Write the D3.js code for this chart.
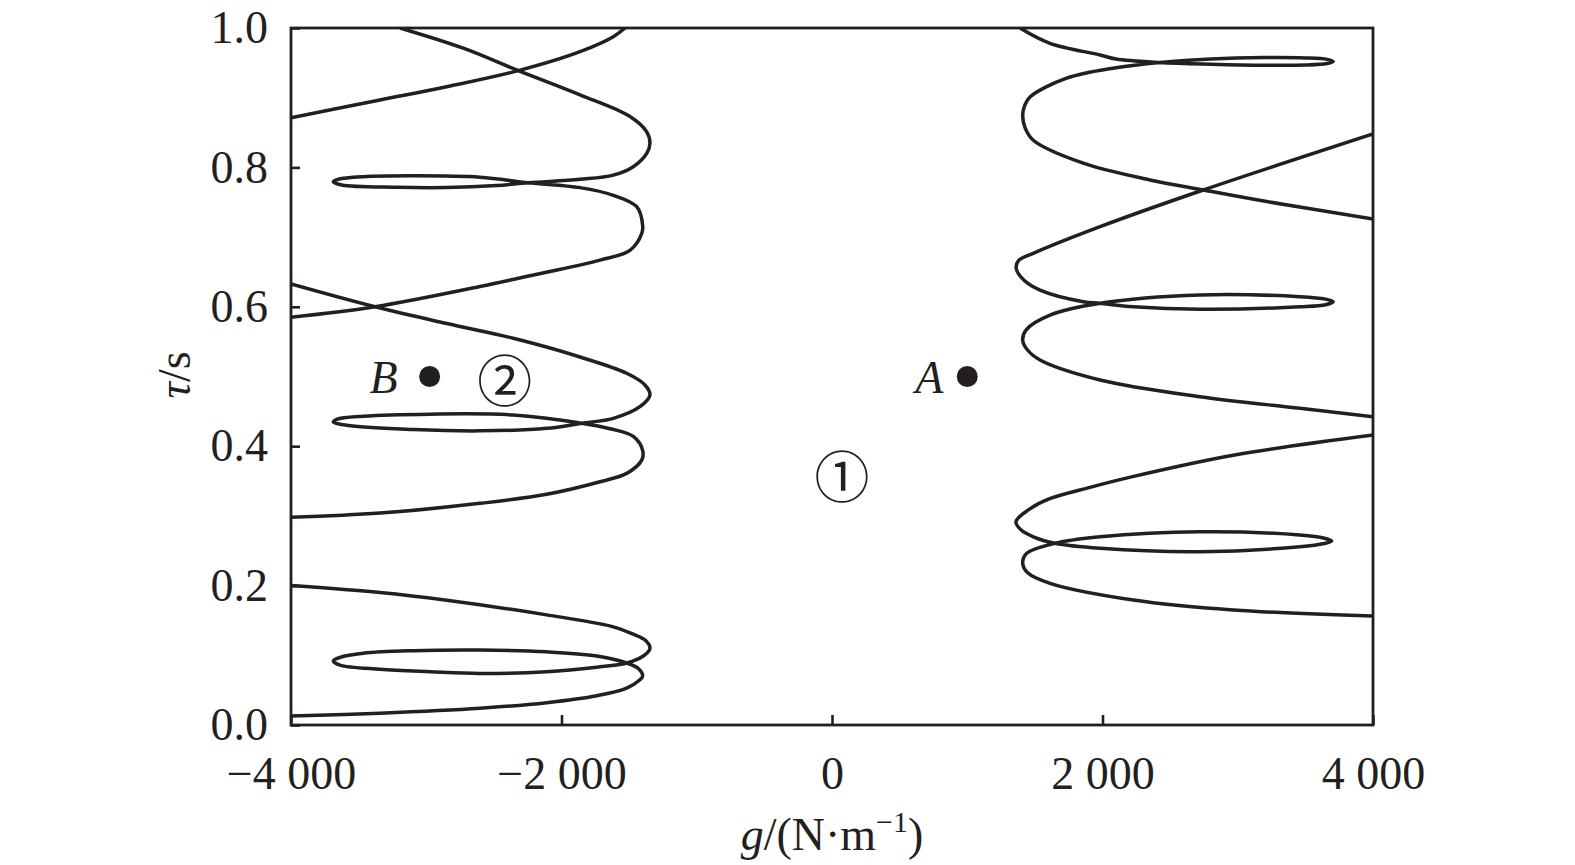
<!DOCTYPE html>
<html><head><meta charset="utf-8">
<script src="https://cdn.jsdelivr.net/npm/d3@7"></script>
<style>
html,body{margin:0;padding:0;background:#fff;}
svg{display:block;}
</style></head><body>
<svg id="chart" width="1575" height="865"></svg>
<script>
// ---- axis ticks ----
const xTicks = [-4000, -2000, 0, 2000, 4000];
const xTickLabels = ["−4 000", "−2 000", "0", "2 000", "4 000"];
const yTicks = [0, 0.2, 0.4, 0.6, 0.8, 1.0];
const yTickLabels = ["0.0", "0.2", "0.4", "0.6", "0.8", "1.0"];

// ---- boundary curves [g (N/m), tau (s)] ----
const curveLeft1 = [
  [-4000,0.013],[-3342,0.017],[-2603,0.024],[-2110,0.032],[-1740,0.042],[-1518,0.053],
  [-1420,0.065],[-1400,0.070],[-1432,0.081],[-1518,0.089],[-1740,0.099],[-2110,0.105],
  [-2603,0.1075],[-3096,0.1066],[-3466,0.103],[-3638,0.097],[-3687,0.092],[-3638,0.086],
  [-3342,0.080],[-2972,0.0765],[-2603,0.074],[-2110,0.0765],[-1740,0.083],[-1518,0.089],
  [-1395,0.099],[-1346,0.110],[-1380,0.1215],[-1480,0.131],[-1630,0.1415],[-2110,0.158],
  [-2849,0.179],[-3342,0.190],[-4000,0.200]
];
const curveLeft2 = [
  [-4000,0.298],[-3342,0.304],[-2603,0.318],[-2110,0.331],[-1715,0.349],[-1518,0.361],
  [-1407,0.380],[-1400,0.394],[-1469,0.414],[-1640,0.425],[-1851,0.433],[-2356,0.4448],
  [-2972,0.446],[-3466,0.443],[-3662,0.4386],[-3687,0.435],[-3588,0.430],[-3096,0.424],
  [-2603,0.422],[-2110,0.4256],[-1851,0.433],[-1617,0.440],[-1420,0.4567],[-1346,0.4735],
  [-1383,0.4878],[-1518,0.5046],[-1863,0.528],[-2356,0.5548],[-2849,0.576],[-3379,0.600],
  [-4000,0.6327]
];
const curveLeft3 = [
  [-4000,0.585],[-3379,0.600],[-2603,0.629],[-2270,0.643],[-1715,0.667],[-1494,0.681],
  [-1407,0.705],[-1400,0.717],[-1444,0.7436],[-1617,0.760],[-1863,0.771],[-2245,0.778],
  [-2603,0.786],[-3096,0.788],[-3466,0.7867],[-3650,0.783],[-3687,0.7795],[-3625,0.7747],
  [-3219,0.7714],[-2849,0.771],[-2479,0.774],[-2245,0.778],[-1863,0.783],[-1617,0.789],
  [-1469,0.801],[-1370,0.820],[-1346,0.8346],[-1370,0.851],[-1494,0.873],[-1863,0.904],
  [-2319,0.9388],[-2726,0.971],[-3194,1.0]
];
const curveLeft4 = [
  [-4000,0.8713],[-3342,0.8967],[-2849,0.9158],[-2319,0.9388],[-1863,0.966],[-1617,0.9875],
  [-1531,1.0]
];
const curveRight1 = [
  [4000,0.416],[2967,0.387],[2215,0.356],[1908,0.341],[1600,0.324],[1455,0.309],
  [1360,0.2917],[1397,0.280],[1488,0.270],[1649,0.2607],[1982,0.2535],[2721,0.2486],
  [3460,0.2558],[3640,0.2605],[3695,0.264],[3640,0.268],[3460,0.2726],[2721,0.2773],
  [1982,0.270],[1649,0.2607],[1440,0.2463],[1410,0.232],[1449,0.218],[1612,0.2033],
  [2228,0.1793],[2967,0.165],[4000,0.1564]
];
const curveRight2 = [
  [4000,0.4423],[3460,0.4544],[2721,0.471],[1982,0.495],[1538,0.5237],[1446,0.538],
  [1410,0.552],[1436,0.567],[1612,0.588],[1982,0.605],[2721,0.617],[3460,0.6145],
  [3650,0.611],[3706,0.6073],[3650,0.603],[3460,0.600],[2721,0.5964],[2228,0.600],
  [1982,0.605],[1858,0.6073],[1538,0.624],[1420,0.638],[1362,0.655],[1378,0.666],
  [1488,0.6767],[1982,0.715],[2745,0.7676],[4000,0.848]
];
const curveRight3 = [
  [4000,0.726],[3214,0.751],[2745,0.7676],[2351,0.782],[1858,0.806],[1488,0.839],
  [1427,0.857],[1410,0.875],[1425,0.889],[1464,0.901],[1735,0.928],[2100,0.943],
  [2425,0.9505],[2800,0.9555],[3200,0.9575],[3500,0.957],[3660,0.955],[3706,0.952],
  [3660,0.949],[3500,0.9468],[3200,0.9465],[2800,0.948],[2425,0.9505],[2100,0.9555],
  [1982,0.9613],[1612,0.978],[1390,1.0]
];
const curves = [curveLeft1, curveLeft2, curveLeft3, curveLeft4, curveRight1, curveRight2, curveRight3];

// ---- marked points and region labels ----
const pointNames = ["A", "B"];
const pointG = [1000, -2975];
const pointTau = [0.5, 0.5];
const regionLabels = ["①", "②"];
const regionG = [74, -2420];
const regionTau = [0.362, 0.5];

// ---- drawing ----
const W = 1575, H = 865;
const plot = {left: 291, right: 1373, top: 28, bottom: 725};
const ink = "#231f20";
const serif = '"Liberation Serif","Times New Roman",serif';
const labelGap = {A: 24, B: 32};

const svg = d3.select("#chart");
svg.append("rect").attr("width", W).attr("height", H).attr("fill", "#fff");

const x = d3.scaleLinear().domain([-4000, 4000]).range([plot.left, plot.right]);
const y = d3.scaleLinear().domain([0, 1]).range([plot.bottom, plot.top]);

svg.append("defs").append("clipPath").attr("id", "clip")
  .append("rect").attr("x", plot.left).attr("y", plot.top)
  .attr("width", plot.right - plot.left).attr("height", plot.bottom - plot.top);

const line = d3.line().x(d => x(d[0])).y(d => y(d[1])).curve(d3.curveCatmullRom.alpha(0.5));

svg.append("g").attr("clip-path", "url(#clip)")
  .selectAll("path").data(curves).join("path")
  .attr("d", line).attr("fill", "none").attr("stroke", ink)
  .attr("stroke-width", 3.5).attr("stroke-linejoin", "round");

// axes
const gx = svg.append("g").attr("transform", `translate(0,${plot.bottom})`)
  .call(d3.axisBottom(x).tickValues(xTicks).tickFormat((d, i) => xTickLabels[i])
    .tickSizeInner(-10).tickSizeOuter(0).tickPadding(31));
gx.select(".domain").remove();
gx.attr("font-family", serif).attr("font-size", 46);
gx.selectAll("line").attr("stroke", ink).attr("stroke-width", 2.6);
gx.selectAll("text").attr("fill", ink);

const gy = svg.append("g").attr("transform", `translate(${plot.left},0)`)
  .call(d3.axisLeft(y).tickValues(yTicks).tickFormat((d, i) => yTickLabels[i])
    .tickSizeInner(-9).tickSizeOuter(0).tickPadding(23));
gy.select(".domain").remove();
gy.attr("font-family", serif).attr("font-size", 46);
gy.selectAll("line").attr("stroke", ink).attr("stroke-width", 2.6);
gy.selectAll("text").attr("fill", ink);

// frame
svg.append("rect").attr("x", plot.left).attr("y", plot.top)
  .attr("width", plot.right - plot.left).attr("height", plot.bottom - plot.top)
  .attr("fill", "none").attr("stroke", ink).attr("stroke-width", 2.8);

// axis titles
const xt = svg.append("text").attr("x", (plot.left + plot.right) / 2).attr("y", 850)
  .attr("text-anchor", "middle").attr("font-family", serif).attr("font-size", 46).attr("fill", ink);
xt.append("tspan").attr("font-style", "italic").text("g");
xt.append("tspan").text("/(N·m");
xt.append("tspan").attr("font-size", 30).attr("dy", -18).text("−1");
xt.append("tspan").attr("dy", 18).text(")");

const yt = svg.append("text").attr("transform", `translate(190,375) rotate(-90)`)
  .attr("text-anchor", "middle").attr("font-family", serif).attr("font-size", 46).attr("fill", ink);
yt.append("tspan").attr("font-style", "italic").text("τ");
yt.append("tspan").text("/s");

// points A, B
const pts = pointNames.map((n, i) => ({name: n, g: pointG[i], tau: pointTau[i]}));
svg.selectAll("circle.pt").data(pts).join("circle").attr("class", "pt")
  .attr("cx", d => x(d.g)).attr("cy", d => y(d.tau)).attr("r", 10.5).attr("fill", ink);
svg.selectAll("text.pt").data(pts).join("text").attr("class", "pt")
  .attr("x", d => x(d.g) - labelGap[d.name]).attr("y", d => y(d.tau) + 16)
  .attr("text-anchor", "end").attr("font-family", serif).attr("font-style", "italic")
  .attr("font-size", 46).attr("fill", ink).text(d => d.name);

// region labels
const regs = regionLabels.map((l, i) => ({label: l, g: regionG[i], tau: regionTau[i]}));
svg.selectAll("text.reg").data(regs).join("text").attr("class", "reg")
  .attr("x", d => x(d.g)).attr("y", d => y(d.tau))
  .attr("text-anchor", "middle").attr("dominant-baseline", "central")
  .attr("font-family", '"Noto Sans CJK SC","DejaVu Sans",sans-serif')
  .attr("font-size", 55).attr("fill", ink).text(d => d.label);
</script>
</body></html>
